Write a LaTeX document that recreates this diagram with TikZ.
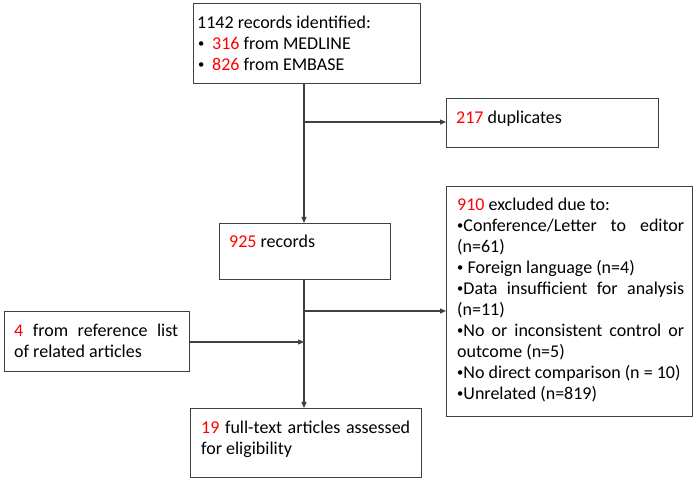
\documentclass[tikz,border=0pt]{standalone}
\usepackage{fontspec}
\setmainfont{Carlito}
\usetikzlibrary{arrows.meta}
\newcommand{\redn}[1]{\textcolor{red}{#1}}
\newcommand{\bul}{\raisebox{0.12em}{\scalebox{0.7}{•}}}
\begin{document}
\begin{tikzpicture}[x=1pt,y=-1pt,
 box/.style={draw=black!75, line width=1.1pt, inner sep=0pt, anchor=north west},
 txt/.style={inner sep=0pt, anchor=north west, font=\fontsize{18}{21}\selectfont, align=left},
 jtxt/.style={txt, align=justify, execute at begin node={\setlength{\parindent}{0pt}}},
 arr/.style={draw=black!75, line width=1.1pt, -{Triangle[length=6pt,width=5pt]}}]
\useasboundingbox (0,0) rectangle (697,481);
% boxes
\node[box, minimum width=227pt, minimum height=80pt] (b1) at (193,3) {};
\node[box, minimum width=212pt, minimum height=49pt] (bdup) at (446,98) {};
\node[box, minimum width=171pt, minimum height=56pt] (b925) at (219,223) {};
\node[box, minimum width=246pt, minimum height=230pt] (b910) at (446,186) {};
\node[box, minimum width=185pt, minimum height=60pt] (b4) at (4,311) {};
\node[box, minimum width=231pt, minimum height=69pt] (b19) at (190,408) {};
% texts
\node[txt] (t1) at (197,13.3) {\strut1142 records identified:\\
 \makebox[15pt][l]{\hspace{1pt}\bul}\redn{316} from MEDLINE\\
 \makebox[15pt][l]{\hspace{1pt}\bul}\redn{826} from EMBASE};
\node[txt] (tdup) at (456,108.3) {\strut\redn{217} duplicates};
\node[txt] (t925) at (229,232.3) {\strut\redn{925} records};
\node[jtxt, text width=227pt] (t910) at (457,195.3) {\strut\redn{910} excluded due to:\par
 \bul Conference/Letter to editor\linebreak (n=61)\par
 \bul\ Foreign language (n=4)\par
 \bul Data insufficient for analysis\linebreak (n=11)\par
 \bul No or inconsistent control or\linebreak outcome (n=5)\par
 \bul No direct comparison (n = 10)\par
 \bul Unrelated (n=819)};
\node[jtxt, text width=164pt] (t4) at (14,321.3) {\strut\redn{4} from reference list\linebreak of related articles};
\node[jtxt, text width=209pt] (t19) at (201,418.3) {\strut\redn{19} full-text articles assessed\linebreak for eligibility};
% junctions
\coordinate (j1) at (304,122);
\coordinate (j2) at (304,311);
\coordinate (j3) at (304,342);
% connectors
\draw[arr] (b1.south -| j1) -- (b925.north -| j1);
\draw[arr] (j1) -- (bdup.west |- j1);
\draw[arr] (b925.south -| j2) -- (b19.north -| j2);
\draw[arr] (j2) -- (b910.west |- j2);
\draw[arr] (b4.east |- j3) -- (j3);
\end{tikzpicture}
\end{document}
